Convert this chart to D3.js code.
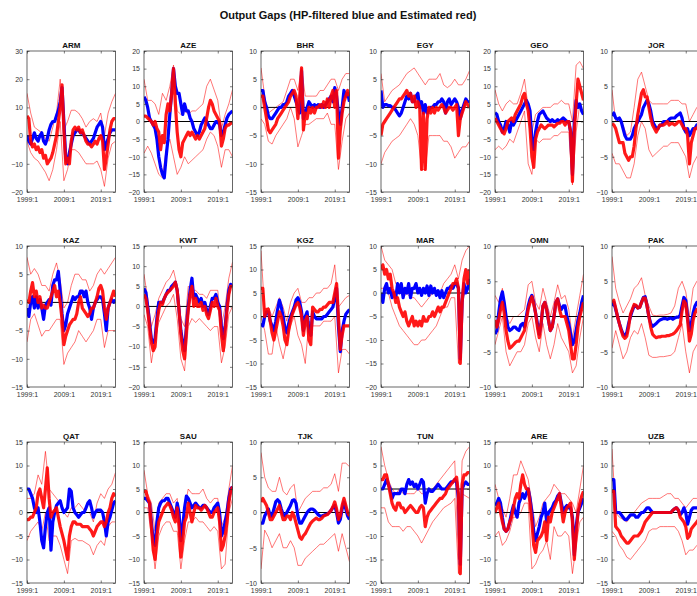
<!DOCTYPE html>
<html>
<head>
  <meta charset="utf-8">
  <title>Output Gaps</title>
  <script src="https://d3js.org/d3.v7.min.js"></script>
  <style>
    body { margin: 0; background: #fff; }
    text { font-family: "Liberation Sans", Arial, sans-serif; }
  </style>
</head>
<body>
<script type="text/javascript">

// ****** DATA ******

  // main lines are half-yearly from 1999:1, bands are yearly
  var halfYears = d3.range(49).map(function (i) { return 1999 + i / 2; });
  var years = d3.range(1999, 2024);
  var xTickValues = [1999, 2009, 2019];
  var xTickLabels = ["1999:1", "2009:1", "2019:1"];

  var countries = ["ARM", "AZE", "BHR", "EGY", "GEO", "JOR",
                   "KAZ", "KWT", "KGZ", "MAR", "OMN", "PAK",
                   "QAT", "SAU", "TJK", "TUN", "ARE", "UZB"];

  var armTicks = [-20, -10, 0, 10, 20, 30];
  var armBlue = [0, -2, -3, -1, 1, -1, -2, 0, 1, -2, -3, -1, 2, 4, 5, 5, 7, 9, 12, 17, 5, -8, -10, -6, -3, 0, 1, 2, 2, 1, 1, 0, -1, -2, -3, -2, -1, 1, 3, 4, 5, 3, -5, -3, -1, 1, 2, 2, 2];
  var armRed = [7, 6, -2, -4, -3, -5, -4, -6, -5, -8, -7, -10, -9, -8, -6, -3, 0, 5, 10, 18, 2, -10, -8, -10, -2, 2, 3, 2, 3, 1, 2, 0, -2, -3, -3, -4, -3, -2, -3, -1, 0, -2, -12, -8, -3, 2, 5, 6, 6];
  var armUpper = [15, 8, 3, 2, 1, -1, -2, 3, 8, 20, 2, 5, 9, 9, 8, 6, 3, 5, 6, 5, 8, 0, 8, 12, 15];
  var armLower = [-2, -6, -8, -9, -11, -13, -16, -12, -5, 5, -16, -12, -5, -5, -6, -8, -10, -10, -10, -9, -12, -18, -8, -3, -2];

  var azeTicks = [-20, -15, -10, -5, 0, 5, 10, 15, 20];
  var azeBlue = [7, 6, 4, 1, 0, -1, -2, -5, -10, -13, -15, -16, -10, -5, 2, 8, 15, 10, 8, 8, 5, 2, 5, 3, 3, 1, 0, -2, -3, -4, -3, -1, 0, 1, 0, -1, -2, -2, -1, 0, 0, -1, -4, -3, -1, 1, 2, 2.5, 3];
  var azeRed = [1.5, 1.5, 1, 0.5, 0, -1, 0, -2, -3, -8, -4, -6, 2, 5, 3, 8, 15, 5, -3, -8, -10, -6, -5, -4, -3, -4, -3, -4, -5, -4, -5, -4, -3, -2, 1, 4, 6, 5, 3, 2, 1, 0, -7, -5, -2, -1, -1, -0.5, -0.5];
  var azeUpper = [12, 6, 6, 5, 2, 8, 6, 10, 16, 3, 2, 3, 2, 3, 3, 4, 5, 10, 12, 9, 6, -2, 2, 5, 9];
  var azeLower = [-9, -7, -9, -12, -15, -16, -8, -5, -10, -15, -13, -10, -12, -11, -10, -9, -8, -5, -3, -4, -7, -13, -8, -8, -10];

  var bhrTicks = [-15, -10, -5, 0, 5, 10];
  var bhrBlue = [3, 3, 1, 0, -1.5, -2, -2, -1.5, -1, -0.5, 0, 0, 0.5, 0.5, 1, 2, 2.5, 3, 2, 1, 0, -1, 6.5, -2, -1, 0, 1, 0.5, 0, 0.5, 0, 0.5, 0, 0.5, 0, 0.5, 1, 1.5, 2, 1, 3.5, 2, -1, -3, 0, 3, 2, 2.5, 1];
  var bhrRed = [2, 2, 0, -2, -4, -4.5, -4, -3.5, -3, -2, -1.5, -1, -0.5, 0, 0.5, 1, 2, 2.5, 3, 2, -2, 2, 7, -4, -1, -2, 0, -1, 0, -1, 0, 0, 0.5, 0, 1, 0, 1.5, 0, 2, 3, 0, 3, -9, -4, -1, 1, 2, 3, 2];
  var bhrUpper = [7, 2, -1, -0.5, 0, 0.5, 1, 3, 5, 5, 3, 7, 2, 2, 2, 2, 3, 3, 4, 5, 5, 3, 5, 6, 6];
  var bhrLower = [-2, -3, -6, -6.5, -5, -4, -3, -2, 0, -2, -7, -5, -3, -3, -2.5, -2, -2, -2, -1, -3, -3, -11, -6, -2, -1];

  var egyTicks = [-15, -10, -5, 0, 5, 10];
  var egyBlue = [3, 0, 0.5, 0.5, 0.3, 0.3, 0, 0, -0.5, -1, -1.5, -1, 0, 1, 2, 1.5, 2.5, 1, 1, 2, 2.5, 0, 1, -1, 0.5, -1, -0.5, 0, 0, 0.5, 0.5, 1, 1, 1.5, 1, -1, 1, 1.5, 0.5, 1, 1.5, 1, 0, -2, -0.5, 0.5, 1.5, 1, 1];
  var egyRed = [-5, -3, -2.5, -2, -1.5, -1, -0.5, 0, 0.5, 1, 1.5, 1.5, 2, 2.5, 3, 2, 2.5, 1, 2, 0, 1, 0, -11, -1, -11, -2, 0, -1, 0, -1, 0, -0.5, 0, 0.5, 0, -1, -0.5, 0, 0, -0.5, 0, 0.5, -5, -2, -1, 0, 1, 0.5, 0];
  var egyUpper = [6, 1, 2, 3, 3.5, 4, 5, 6, 6.5, 7, 6, 5, 4, 5, 5, 5, 6, 4, 3.5, 4, 5, 4, 4, 5, 6.5];
  var egyLower = [-10, -8, -7, -6, -5.5, -5, -4, -3, -2, -3, -5, -11, -11, -5, -5, -5, -5, -6, -6, -7, -9, -8, -7, -7, -6];

  var geoTicks = [-20, -15, -10, -5, 0, 5, 10, 15, 20];
  var geoBlue = [2.5, 2, 0, -1, -3, -2, 0, -1, -3, 0, -1, 0, 1, 2, 3, 4, 5, 6, 5, 3, -5, -8, -3, 0, 2, 2.5, 3, 2, 1, 0.5, 0, 0.5, 0, 0, 0.5, 0, 0.5, 1, 0.5, 0, 0, -3, -15, 0, 6, 4, 5, 3, 2];
  var geoRed = [1, 0, -1, -2, -3, -3.5, -2, 0, 0.5, 1, 0, 2, 3, 4, 5, 7, 8, 5, 3, -2, -10, -13, -5, -3, -2, -1, -1.5, -2, -1.5, -1, -1, -1, -1.5, -1, -0.5, -0.5, 0, 0, -1, 0, 0, -3, -17, -3, 5, 12, 10, 8, 6];
  var geoUpper = [9, 5, 3, 5, 6, 5, 5, 8, 12, 4, -3, 2, 3, 4, 4, 4, 5, 5, 6, 5, 5, 0, 16, 17, 15];
  var geoLower = [-8, -7, -8, -7, -5, -6, -3, 0, 3, -12, -15, -5, -6, -5, -5, -5, -4, -4, -3, -3, -3, -18, -3, 5, 2];

  var jorTicks = [-10, -5, 0, 5, 10];
  var jorBlue = [0.8, 1.2, 0.5, 0.3, 0.5, 0, -1, -2, -2.5, -2.5, -2.5, -2, -1, -0.5, 0, 0.5, 1, 2, 2.5, 3, 2.5, 1.5, 0, -0.5, -1, -1, -0.5, -0.5, 0, 0, 0, 0.3, 0.5, 0.5, 0.5, 0.8, 1, 1.2, 0.5, -1, -1.5, -1, -2, -1.5, -1, -1, -0.5, -1, -1];
  var jorRed = [-0.3, -0.5, -1, -2, -3, -3, -3, -4.5, -5, -5.5, -5, -5, -3.5, -1, 1, 2.5, 4, 4.5, 3.5, 3.5, 2, 0.5, -0.5, -1, -1.5, -1, -0.5, -0.5, -0.5, -0.3, 0, -0.5, -0.3, -0.3, -0.5, -0.3, 0, 0, -0.5, -1, -1, -2, -6, -3, -2, -1, -1, -0.5, -0.5];
  var jorUpper = [4.5, 0, 0, -0.5, -2, -1.5, 2, 6, 7, 5, 3, 2.5, 2.5, 2.5, 2.5, 2.5, 3, 3, 3, 2.5, 2.5, 0, 1, 2, 2];
  var jorLower = [-4.5, -6, -6, -7, -8, -8, -6, -2, 0, -1, -4, -5, -4.5, -4, -3.5, -3.5, -3, -3, -3, -4, -5, -8, -6, -5, -4];

  var kazTicks = [-15, -10, -5, 0, 5, 10];
  var kazBlue = [-1, -2.5, 0, 1, -1, 1, -1, 0.5, -1, -3, -0.5, 0, 0.5, -0.5, 3, 4, 4, 5.5, 2, -2, -5, -4, -2, -1, 0, 1, 0.5, 1, 1, 2, 2, 1, 2, 0, -1, -3, -1, 0, 0.5, 1, 1, 0.5, -2, -5, -1, 0, 0.5, 0, 0.5];
  var kazRed = [0.5, 0, 2, 3.5, 1, 2, 0, 1, -1, -0.5, -1, -1, 0, 1, 2, 3, 1, 2, 0, -3, -7.5, -6, -5, -4, -3.5, -3, -3, -2, 0, 1, -1, -1.5, -2, -2.5, -2, -1, -1, 0, 1, 2.5, 3, 2, -1, -3, -1, 0, 1, 2, 1];
  var kazUpper = [8, 5, 6, 5, 3, 3, 2, 5, 7, 4, -1, 0, 3, 5, 5, 4, 4, 2, 3, 5, 6, 5, 6, 7, 8];
  var kazLower = [-7, -3, -2, -4, -6, -5, -5, -4, -3, -3, -11, -9, -8, -7, -5, -6, -7, -6, -5, -3, -3, -8, -5, -5, -5];

  var kwtTicks = [-20, -15, -10, -5, 0, 5, 10, 15];
  var kwtBlue = [4.5, 3.5, 0, -4, -8, -9, -8, -3, 1, 1, 1, 2, 3, 4, 4, 5, 5.5, 6, 4, -1, -6, -9, -11, -5, 0, 4, 7, 2, 3, 2, 1, 2, 0, 1, -1, -2, 0, 2, 2, 3, 1, 0, -5, -8, -5, 0, 4, 5.5, 5];
  var kwtRed = [3, 2, -1, -5, -9, -11, -10, -4, -1, 1, 0.5, 2, 3, 3.5, 4, 4.5, 5, 6, 4, -1, -7, -11, -13, -6, -1, 3, 5, 0, 2, 0, 0, 1, -1, 0, -2, -3, -1, 1, 0, 2, 0, -1, -7, -11, -6, -1, 3, 5, 5];
  var kwtUpper = [8, 2, -5, -2, 2, 4, 6, 7, 9, 5, -3, -5, 5, 4, 4, 3, 3, 2, 4, 4, 4, -5, 0, 7, 11];
  var kwtLower = [-2, -5, -14, -8, -4, -2, 0, 1, 3, -3, -13, -16, -5, -3, -4, -3, -4, -5, -6, -5, -5, -14, -10, -2, 0];

  var kgzTicks = [-15, -10, -5, 0, 5, 10, 15];
  var kgzBlue = [-1.5, -2, 0, 1, 1, -1, -2, -3, -1, 1.5, 3.5, 2, 0, -2.5, -3.5, -1.5, 0, 1, 2, 3.5, 4, 3, 1, -3, 0, 1, -3, -4, 1, 0, -0.5, -0.5, -0.5, -0.5, 0, 0, 0.5, 1, 1.5, 2, 4, 6, -2, -7.5, -3, -1, 0.5, 1, 1.5];
  var kgzRed = [6, 6, 0, 1.5, 1.5, -1, -3.5, -5, -3, -1, 1, 0, -2, -5, -6, -3, -1, 0.5, 1.5, 2.5, 3, 2, 0, -4, -1, 0, -5, -6, 2, 1.5, 1, 1, 1.5, 1.5, 2, 2, 2.5, 3, 3, 3, 5, 7, 0, -7, -4, -2, -2, -2, -2];
  var kgzUpper = [14, 1, 2, 0, 2, 4, 2, -1, 3, 5, 6, 3, 3, 4, 4, 5, 5, 6, 6, 7, 11, 2, 3, 4, 4.5];
  var kgzLower = [0, -3, -8, -8, -2, -6, -9, -5, -2, 0, -4, -6, -10, -1, -2, -2, -2, -1, -1, -1, 0, -12, -7, -7, -8];

  var marTicks = [-20, -15, -10, -5, 0, 5, 10];
  var marBlue = [0, -2, 1, 2, 0, 1, -1, 0, -1, 2, 0, 2, -1, 1, 0, 2, -1, 1, 1, 2, 0, 1, -0.5, 1, 0, 1.5, -0.5, 1.5, 0, 1, -0.5, 0.5, -1, 0.5, -1, 0, 1, 1, 1.5, 1, 2, 2, 1, -14, -2, 2, 0, 1, 3];
  var marRed = [5, 6, 4, 5, 3, 4, 1, 0, -2, -1, -3, -4, -5, -4, -6, -7, -6, -5, -7, -6, -7, -6, -7, -5, -6, -6, -5, -5, -4, -5, -4, -3, -4, -3, -3, -2, -1, 0, 1, 2, 2, 3, 1, -15, -2, 3, 5, 2, 5];
  var marUpper = [10, 7, 6, 5, 2, 1, -1, 0, -1, -1, -2, -3, -2, -1, 0, 0, 0, 2, 3, 4, 6, 3, 7, 9, 10];
  var marLower = [1, 1, 0, -3, -5, -7, -8, -9, -10, -11, -11, -10, -10, -9, -8, -7, -5, -3, -3, -1, -1, -15, -1, 0, 0];

  var omnTicks = [-10, -5, 0, 5, 10];
  var omnBlue = [-2.5, -2, 0.5, 2.5, 3.5, 2, 0, -1.5, -2, -1.8, -1.5, -1.5, -1.8, -2, -1.2, -1, -1.5, 0, 1.5, 2.5, 3, 2, 0.5, -1, -2.5, -1, 1.5, 2, 1, -0.5, -2, -1.5, 0, 2, 2.5, 1.5, 1, 1.5, 1.5, 0, -1, -2.5, -4, -3.5, -2, -0.5, 0.5, 2, 3];
  var omnRed = [-0.5, -1.5, -0.5, 1, 2, 0.5, -2, -3.5, -4.5, -4.3, -4, -3.7, -3.5, -3.5, -3, -2.5, -2, -0.5, 1, 2, 2.8, 1.8, 0.5, -1.5, -3, -1, 1.5, 2, 1, -0.5, -2, -1.5, 0, 2, 2.5, 1, 0, 0, 0, -1, -2, -4, -6, -6, -4, -1.5, 0, 1, 2];
  var omnUpper = [3, 2, 4, 0, -1, 0, 0, 0.5, 1, 4.5, 5, 2, 1, 4, 2, 0, 2, 4.5, 2.5, 3, 1, -3, 0, 3, 6];
  var omnLower = [-4, -2, 0, -5, -7, -6, -5, -5, -4, -1, 0, -3, -5, -1, -4, -6, -4, -1, -3, -4, -5, -8, -7, -3, 0];

  var pakTicks = [-10, -5, 0, 5, 10];
  var pakBlue = [1.5, 2, 1, 0, -1, -1.8, -2.5, -2.7, -2.3, -1, 0, 0.8, 1.5, 1.5, 1.2, 1.3, 2, 2.7, 2.8, 1.5, 0, -1, -1.4, -1.2, -1, -0.7, -0.5, -0.4, -0.3, -0.3, -0.4, -0.3, -0.2, -0.4, -0.2, -0.1, -0.1, 0.2, 1.5, 2.7, 2.3, 0, -2, -1, 0.5, 1.5, 2, 1.5, 1];
  var pakRed = [2, 2.3, 1.2, 0, -1, -2, -2.8, -3.1, -2.8, -1.5, 0.3, 1, 1.7, 1.6, 1.2, 1.3, 2, 2.6, 2.6, 1.5, 0, -1.5, -2.5, -2.8, -3, -2.9, -2.9, -2.8, -2.8, -2.8, -2.7, -2.7, -2.6, -2.5, -2.3, -2, -1.6, -1.2, 0.8, 2.2, 1.8, -0.5, -3.5, -2.5, -0.5, 0.5, 1, 0.5, 0];
  var pakUpper = [8.5, 4, 2, 0.5, 1.5, 2.5, 4, 4.5, 5.5, 3, 1.5, 0.2, 0.1, 0.2, 0.2, 0.3, 0.5, 1.5, 4, 5, 3.5, 0, 4, 5, 5];
  var pakLower = [-4.5, -2, -4, -6, -5, -3, -2, -2.5, -1, -3, -5.5, -5.8, -5.8, -5.7, -5.7, -5.6, -5.5, -5, -3, -1, -5, -8, -5, -4, -4];

  var qatTicks = [-15, -10, -5, 0, 5, 10, 15];
  var qatBlue = [5, 5, 4, 3, 1, 0, 1, -2, -6, -7.5, -3, 0, 1, -8, -2, 0, 1.5, 2, 2.5, 1, 0, 0.5, 1, 5, 4.5, 1, 0, -0.5, -1, -0.5, 0, 0, 1, 2, 2.5, 1, -1, 0, 0.5, 0.5, 0.5, 0, -2, -5, -2, -1, 0.5, 2, 2.5];
  var qatRed = [-1.5, -1.5, -1, -1, 0, 1, 4, 5, 3, 1, 5, 9.5, 3, -1, 0, 0.5, 1, -1, -3, -4.5, -6, -8, -10, -5, -3, -2, -2, -2.5, -2.5, -2.5, -3, -3, -3, -3, -3.5, -4, -5, -4, -3, -2.5, -2, -2, -3, -2, 0, 1, 3, 4, 3.5];
  var qatUpper = [3, 3, 4, 8, 6, 13, 5, 4, 3, 2, 0, -1, 1, 1, 2, 1, 0, 0, -2, 2, 4, 3, 5, 6, 8.5];
  var qatLower = [-6, -4, -3, -2, -4, 0, -6, -5, -5, -7, -10, -13, -6, -5.5, -6, -6, -6.5, -7, -9, -7, -6, -7, -3, -2, -2];

  var sauTicks = [-15, -10, -5, 0, 5, 10, 15];
  var sauBlue = [3, 3, 2.5, 2, -2, -6, -7, -2, 1, 2, 2.5, 2.5, 3, 3, 2, 1, 0, -1, 2, 0, -6, -3, 1, 3.5, 3, 2, 1, 1.5, 2, 1.5, 1, 1, 1.5, 1.5, 1, 0.5, 0, 0, 1, 1.5, 2, 0, -5, -4, -2, 0, 3, 5, 5.5];
  var sauRed = [4.5, 4.5, 3, 2, -3, -8, -10, -5, -2, -1, 0, 1, 1.5, 2, 1.5, 0.5, -1, -2, 1, -3, -9.5, -6, -2, -1, 2, 0, -2, 0, 1.5, 1, 1, 0.5, 1, 1.5, 1, 0, -1, -1, 0, 0.5, 1, -2, -8, -7, -5, -2, 2, 4.5, 5.5];
  var sauUpper = [9, 4, 2, -4, 2, 3, 4, 4, 2, 3, -5, 1, 5, 4, 4, 4, 5, 3, 2, 3, 3, -3, -1, 5, 10];
  var sauLower = [1, 1, -5, -12, -5, -3, -2, -2, -4, -4, -12, -6, -2, -2, -1, -2, -2, -3, -4, -3, -4, -12, -11, 0, 3];

  var tjkTicks = [-10, -5, 0, 5, 10];
  var tjkBlue = [-1.5, -1.5, -0.5, 0, 0.5, -0.5, -0.5, 0.5, 1.5, 1.8, 1.5, 0.5, -0.3, -0.5, 0, 0.5, 1, 1.7, 1.8, 1.3, -0.5, -1.5, -1.5, -1, -0.5, 0, 0.3, 0.5, 0.5, 0.3, 0, -0.3, -0.5, -0.5, -0.4, -0.3, -0.2, 0, 0.3, 0.7, 1, 0, -1.5, -1, 0.5, 1.5, 0.5, -0.5, -1];
  var tjkRed = [1.5, 2, 1.5, 1, 0, -1, -1, -0.5, 0, 0.5, 1, 0, -1, -1, -0.5, -0.5, -1, 0, -0.5, -1.5, -2.5, -3.5, -3.8, -3.3, -3, -2.5, -2, -1.5, -1.2, -1, -0.8, -1, -1, -0.8, -0.5, -0.4, -0.3, 0, 0.3, 0.8, 1.5, 0.5, -1, -0.5, 1, 2, 1, 0, -0.5];
  var tjkUpper = [8.5, 5, 3.5, 3, 3, 5, 3, 2.5, 3.5, 4, 0, 1, 2, 2.5, 3, 3, 3, 3.5, 3.5, 4, 5.5, 3, 7, 7, 6.5];
  var tjkLower = [-8, -2.5, -3.5, -5, -4, -3, -5, -5, -4, -5, -7.5, -7.5, -6.5, -6, -5.5, -5, -4.5, -4.5, -4, -3.5, -3, -5.5, -3, -5, -7];

  var tunTicks = [-20, -15, -10, -5, 0, 5, 10];
  var tunBlue = [0, 0, 1, 2, 1, 0, -2, -1, -1, -1, -1, 0, 0, -1, 1, 2, 1, 1.5, 0.5, 1, 0, 1, 2, 1.5, -3, -1, 0, -0.5, -0.5, 0, 0.5, 1, 0.5, 0, 0, 0, 0.5, 1, 1.5, 1.5, 2, 1.5, -2, -16, 0, 1, 1.5, 1, 1];
  var tunRed = [2, 2, 3, 3, 1, -1, -3, -4, -4.5, -3, -3, -4, -4, -5, -4.5, -4, -3.5, -4, -4.5, -5, -5, -4, -3.5, -4, -8, -6, -5, -4.5, -4, -3.5, -3, -2.5, -2, -2, -1.5, -1, 0, 0.5, 1, 1.5, 2, 2.5, -1, -18, 1, 3, 3, 3.5, 3.5];
  var tunUpper = [9, 5, 2, 0, -1, 0, -1, -1, -1, -1, 0, -1, -1, -0.5, 0, 1, 2, 3, 4, 5, 6, -15, 6, 8, 9];
  var tunLower = [-4, -4, -7, -8, -8, -8, -9, -8, -8, -9, -10, -11.5, -10, -8.5, -7, -6, -5, -4, -3.5, -3, -2, -18, -1, -1.5, -2];

  var areTicks = [-15, -10, -5, 0, 5, 10, 15];
  var areBlue = [1.5, 2, 3, 2, -1, -3.5, -4, -3.5, -2, 0, 1.5, 0, -1, 2, 3, 4, 3, 4, 5, 3, 0, -4, -6, -4.5, -3, -1, 0, 2, -2, 0, 0.5, 1, 2, 2.5, 3.5, 4, 2, 0, 1, 1.5, 1, 1, -1, -9, -3, 0, 1, 2, 3];
  var areRed = [0, 1, 2, 0, -2, -3.5, -4, -3.5, -2, -1, 1, 3, 4, 3, 6, 8, 6, 5, 5, 2, -2, -7, -8.5, -6, -5.5, -5, -4, -2, -6, -1, -2, 0, 1, 2, 3, 4, 1, -2, 0, 1, 1.5, 2, -2, -10, -5, 0, 2, 3.5, 4.5];
  var areUpper = [6, 3, 1, -1, 3, 8, 8, 11, 9, 7, 2, -3, -1, 2, 3, 4, 6, 5, 4, 4, 3, 2, 0, 5, 10];
  var areLower = [-5, -4, -7, -6, -4, -1, -1, 0, 2, 2, -12, -11, -9, -8, -6, -10, -3, -5, -5, -4, -5, -13, -7, -2, -1];

  var uzbTicks = [-15, -10, -5, 0, 5, 10, 15];
  var uzbBlue = [7, 7, 0, 0, 0, -0.5, -1, -1.5, -1.5, -1, -0.5, -0.5, -0.5, -1, -1, -0.5, 0, 0, 0.5, 1, 1, 0.5, 0, 0, 0, 0, 0, 0, 0, 0, 0, 0, 0, 0.5, 0.8, 1, 0.5, -0.5, 0, 1, 0, -2.5, -1, 0.5, 1, 1, 1, 1, 1];
  var uzbRed = [4.5, 4.5, -3, -3.5, -4, -5, -5.5, -6, -6.5, -6.5, -6, -5.5, -5, -5, -5, -4.5, -4, -3, -2, -1.5, -1, -0.5, 0, 0, 0, 0, 0, 0, 0, 0, 0, 0, 0, 0.5, 0.8, 1, 0.5, -1, -1.5, -2, -3, -5.5, -5, -3.5, -3, -2.5, -2, -1.5, -1];
  var uzbUpper = [13.5, 0, -1, -1.5, -2, -1, 0, 1, 2, 2.5, 3, 3, 3, 3, 3.5, 4, 4, 3, 3, 2, 1, 2, 3, 3, 3];
  var uzbLower = [-4, -5, -7, -8, -9.5, -10, -9, -8, -7, -6, -4, -3.5, -3.5, -3, -3, -3, -3, -3, -4, -6, -9, -8, -8, -7, -7];

  var panels = [
    [armTicks, armBlue, armRed, armUpper, armLower],
    [azeTicks, azeBlue, azeRed, azeUpper, azeLower],
    [bhrTicks, bhrBlue, bhrRed, bhrUpper, bhrLower],
    [egyTicks, egyBlue, egyRed, egyUpper, egyLower],
    [geoTicks, geoBlue, geoRed, geoUpper, geoLower],
    [jorTicks, jorBlue, jorRed, jorUpper, jorLower],
    [kazTicks, kazBlue, kazRed, kazUpper, kazLower],
    [kwtTicks, kwtBlue, kwtRed, kwtUpper, kwtLower],
    [kgzTicks, kgzBlue, kgzRed, kgzUpper, kgzLower],
    [marTicks, marBlue, marRed, marUpper, marLower],
    [omnTicks, omnBlue, omnRed, omnUpper, omnLower],
    [pakTicks, pakBlue, pakRed, pakUpper, pakLower],
    [qatTicks, qatBlue, qatRed, qatUpper, qatLower],
    [sauTicks, sauBlue, sauRed, sauUpper, sauLower],
    [tjkTicks, tjkBlue, tjkRed, tjkUpper, tjkLower],
    [tunTicks, tunBlue, tunRed, tunUpper, tunLower],
    [areTicks, areBlue, areRed, areUpper, areLower],
    [uzbTicks, uzbBlue, uzbRed, uzbUpper, uzbLower]
  ];


// ****** LAYOUT ******

  var width = 697,
      height = 596;
  var panelLefts = [27, 144, 261, 381, 495, 612],
      panelTops = [51, 246, 442],
      panelWidth = 88.5,
      panelHeight = 141;
  var axisColor = "#262626";


// ****** CREATE ELEMENTS ******

  var svg = d3.select("body")
    .append("svg")
    .attr("width", width)
    .attr("height", height);

  svg.append("text")
    .attr("x", 348)
    .attr("y", 19)
    .attr("text-anchor", "middle")
    .style("font-size", "11px")
    .style("font-weight", "bold")
    .style("fill", "#111")
    .text("Output Gaps (HP-filtered blue and Estimated red)");

  var x = d3.scaleLinear().domain([1999, 2023]).range([0, panelWidth]);

  panels.forEach(function (p, i) {
    var ticks = p[0], blue = p[1], red = p[2], upper = p[3], lower = p[4];
    var col = i % 6, row = Math.floor(i / 6);

    var g = svg.append("g")
      .attr("transform", "translate(" + panelLefts[col] + "," + panelTops[row] + ")");

    var y = d3.scaleLinear().domain(d3.extent(ticks)).range([panelHeight, 0]);

    g.append("clipPath")
      .attr("id", "clip" + i)
      .append("rect")
      .attr("width", panelWidth)
      .attr("height", panelHeight);

    var plot = g.append("g").attr("clip-path", "url(#clip" + i + ")");

    var line = d3.line()
      .x(function (d) { return x(d[0]); })
      .y(function (d) { return y(d[1]); });

    // thin red bands round the estimate
    [upper, lower].forEach(function (band) {
      plot.append("path")
        .datum(d3.zip(years, band))
        .attr("d", line)
        .attr("fill", "none")
        .attr("stroke", "#ff0000")
        .attr("stroke-opacity", 0.6)
        .attr("stroke-width", 0.9);
    });

    plot.append("line")
      .attr("x1", 0)
      .attr("x2", panelWidth)
      .attr("y1", y(0))
      .attr("y2", y(0))
      .attr("stroke", "#000")
      .attr("stroke-width", 1);

    plot.append("path")
      .datum(d3.zip(halfYears, blue))
      .attr("d", line)
      .attr("fill", "none")
      .attr("stroke", "#0000ff")
      .attr("stroke-width", 3.2)
      .attr("stroke-linejoin", "round");

    plot.append("path")
      .datum(d3.zip(halfYears, red))
      .attr("d", line)
      .attr("fill", "none")
      .attr("stroke", "#ff0000")
      .attr("stroke-opacity", 0.9)
      .attr("stroke-width", 3.2)
      .attr("stroke-linejoin", "round");

    // axes: ticks point inwards on all four sides
    var left = g.append("g")
      .call(d3.axisLeft(y).tickValues(ticks).tickSize(-2.5).tickPadding(4));
    var right = g.append("g")
      .attr("transform", "translate(" + panelWidth + ",0)")
      .call(d3.axisRight(y).tickValues(ticks).tickSize(-2.5).tickFormat(""));
    var bottom = g.append("g")
      .attr("transform", "translate(0," + panelHeight + ")")
      .call(d3.axisBottom(x).tickValues(xTickValues).tickSize(-2.5).tickPadding(5)
        .tickFormat(function (d, k) { return xTickLabels[k]; }));
    var top = g.append("g")
      .call(d3.axisTop(x).tickValues(xTickValues).tickSize(-2.5).tickFormat(""));

    [left, right, bottom, top].forEach(function (a) {
      a.attr("color", axisColor)
        .attr("font-family", null)
        .attr("font-size", null);
      a.select(".domain").remove();
      a.selectAll("line").attr("stroke-width", 0.6);
      a.selectAll("text").style("font-size", "7px").style("fill", "#333");
    });

    g.append("rect")
      .attr("width", panelWidth)
      .attr("height", panelHeight)
      .attr("fill", "none")
      .attr("stroke", axisColor)
      .attr("stroke-width", 0.7);

    g.append("text")
      .attr("x", panelWidth / 2)
      .attr("y", -3)
      .attr("text-anchor", "middle")
      .style("font-size", "8px")
      .style("font-weight", "bold")
      .style("fill", "#111")
      .text(countries[i]);
  });
</script>
</body>
</html>
